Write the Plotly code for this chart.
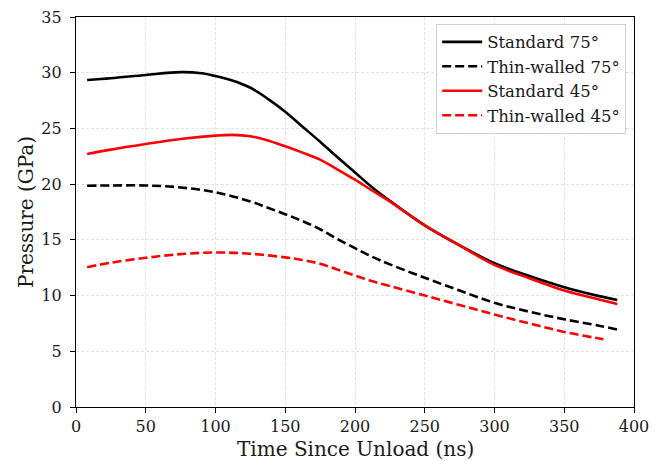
import plotly.graph_objects as go

# Data
std75_x = [8, 25, 50, 75, 90, 100, 112, 125, 137, 150, 162, 175, 187, 200, 212, 225, 250, 275, 300, 325, 350, 375, 388]
std75_y = [29.35, 29.5, 29.8, 30.05, 29.95, 29.7, 29.3, 28.65, 27.7, 26.5, 25.2, 23.8, 22.45, 21.05, 19.75, 18.5, 16.3, 14.5, 12.9, 11.75, 10.75, 9.95, 9.6]

thin75_x = [8, 25, 50, 75, 100, 125, 137, 150, 162, 175, 187, 200, 212, 225, 250, 275, 300, 325, 350, 375, 388]
thin75_y = [19.86, 19.88, 19.88, 19.7, 19.27, 18.45, 17.9, 17.3, 16.7, 15.95, 15.1, 14.25, 13.5, 12.8, 11.6, 10.45, 9.35, 8.55, 7.87, 7.3, 6.95]

std45_x = [8, 25, 50, 75, 100, 112, 125, 137, 150, 162, 175, 187, 200, 212, 225, 250, 275, 300, 325, 350, 375, 388]
std45_y = [22.7, 23.1, 23.6, 24.05, 24.35, 24.42, 24.3, 23.95, 23.4, 22.85, 22.2, 21.35, 20.4, 19.45, 18.45, 16.3, 14.5, 12.75, 11.55, 10.45, 9.65, 9.25]

thin45_x = [8, 25, 50, 75, 100, 125, 150, 162, 175, 187, 200, 212, 225, 250, 275, 300, 325, 350, 378]
thin45_y = [12.55, 12.95, 13.39, 13.72, 13.87, 13.75, 13.43, 13.2, 12.85, 12.35, 11.8, 11.3, 10.85, 10.0, 9.15, 8.3, 7.5, 6.74, 6.08]

x_ticks = [0, 50, 100, 150, 200, 250, 300, 350, 400]
y_ticks = [0, 5, 10, 15, 20, 25, 30, 35]

FONT = "DejaVu Serif"
DASH = "9px,4px"
TXT = "#1a1a1a"

fig = go.Figure()
series = [
    ("Standard 75°", std75_x, std75_y, "black", "solid"),
    ("Thin-walled 75°", thin75_x, thin75_y, "black", DASH),
    ("Standard 45°", std45_x, std45_y, "red", "solid"),
    ("Thin-walled 45°", thin45_x, thin45_y, "red", DASH),
]
for name, xs, ys, col, dash in series:
    fig.add_trace(go.Scatter(
        x=xs, y=ys, name=name, mode="lines",
        line=dict(color=col, width=2.6, dash=dash, shape="spline", smoothing=1.0),
    ))

axis_common = dict(
    showline=True, linecolor="black", linewidth=1.2, mirror=True,
    ticks="outside", ticklen=5, tickwidth=1.2, tickcolor="black",
    showgrid=True, gridcolor="#e2e2e2", gridwidth=0.8, griddash="3px,2px",
    zeroline=False, automargin=False,
    tickfont=dict(family=FONT, size=16, color=TXT),
)

fig.update_xaxes(
    range=[0, 400], tickvals=x_ticks, ticktext=[str(v) for v in x_ticks],
    ticklabelstandoff=0,
    **axis_common,
)
fig.update_yaxes(
    range=[0, 35], tickvals=y_ticks, ticktext=[str(v) for v in y_ticks],
    ticklabelstandoff=5,
    **axis_common,
)

# Axis titles as annotations for precise placement
fig.add_annotation(
    text="Time Since Unload (ns)", xref="paper", yref="paper", x=0.5, y=0,
    xanchor="center", yanchor="middle", yshift=-42, showarrow=False,
    font=dict(family=FONT, size=20, color=TXT),
)
fig.add_annotation(
    text="Pressure (GPa)", xref="paper", yref="paper", x=0, y=0.5,
    xanchor="center", yanchor="middle", xshift=-50, textangle=-90, showarrow=False,
    font=dict(family=FONT, size=20, color=TXT),
)

fig.update_layout(
    width=662, height=461,
    margin=dict(l=76, r=28, t=17, b=54),
    paper_bgcolor="white", plot_bgcolor="white",
    font=dict(family=FONT, color=TXT),
    legend=dict(
        x=0.986, y=0.983, xanchor="right", yanchor="top",
        bgcolor="rgba(255,255,255,0.85)", bordercolor="#d0d0d0", borderwidth=1,
        font=dict(family=FONT, size=16.5, color=TXT),
        tracegroupgap=0, itemwidth=40,
    ),
    showlegend=True,
)

fig.write_html(
    "out.html",
    config={"displayModeBar": False},
    post_script="document.body.style.margin='0';document.body.style.padding='0';",
)
